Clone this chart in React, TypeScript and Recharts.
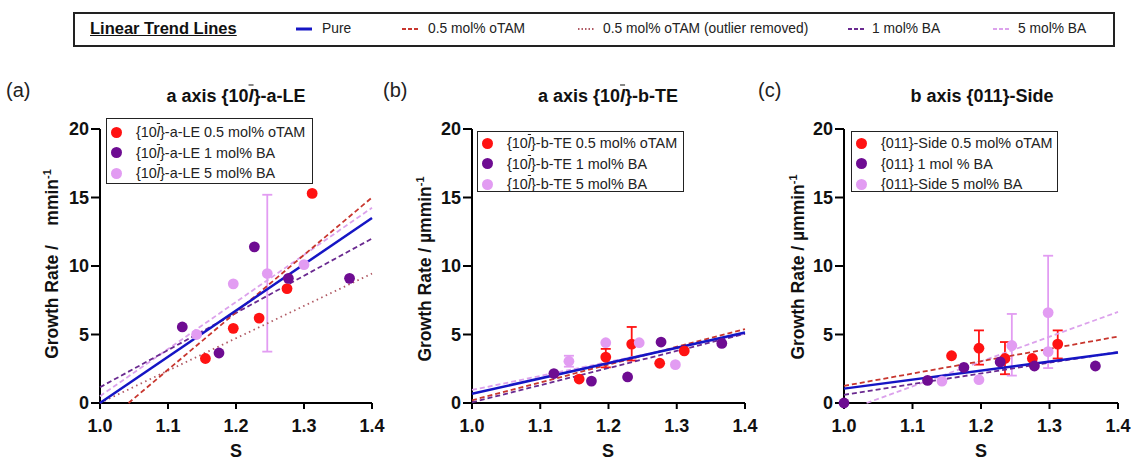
import React from 'react';
import { ScatterChart, Scatter, XAxis, YAxis, ErrorBar } from 'recharts';

type Pt = { s: number; rate: number; err?: [number, number] };

const sTicks = [1.0, 1.1, 1.2, 1.3, 1.4];
const rateTicks = [0, 5, 10, 15, 20];

// (a) a axis {10l}-a-LE
const leOtam: Pt[] = [
  { s: 1.155, rate: 3.25 }, { s: 1.196, rate: 5.45 }, { s: 1.234, rate: 6.2 },
  { s: 1.275, rate: 8.35 }, { s: 1.312, rate: 15.3 },
];
const leBa1: Pt[] = [
  { s: 1.121, rate: 5.55 }, { s: 1.175, rate: 3.65 }, { s: 1.227, rate: 11.4 },
  { s: 1.277, rate: 9.1 }, { s: 1.367, rate: 9.1 },
];
const leBa5: Pt[] = [
  { s: 1.142, rate: 5.0 }, { s: 1.196, rate: 8.7 },
  { s: 1.246, rate: 9.45, err: [5.7, 5.75] }, { s: 1.3, rate: 10.1 },
];
const leFitPure: Pt[] = [{ s: 1.0, rate: 0 }, { s: 1.4, rate: 13.5 }];
const leFitOtam: Pt[] = [{ s: 1.042, rate: 0 }, { s: 1.4, rate: 15.0 }];
const leFitOutlier: Pt[] = [{ s: 1.0, rate: 0.0 }, { s: 1.4, rate: 9.45 }];
const leFitBa1: Pt[] = [{ s: 1.0, rate: 1.15 }, { s: 1.4, rate: 12.0 }];
const leFitBa5: Pt[] = [{ s: 1.0, rate: 0.5 }, { s: 1.4, rate: 14.25 }];

// (b) a axis {10l}-b-TE
const teOtam: Pt[] = [
  { s: 1.157, rate: 1.75 }, { s: 1.196, rate: 3.35, err: [0.75, 0.6] },
  { s: 1.234, rate: 4.3, err: [1.2, 1.25] }, { s: 1.275, rate: 2.9 }, { s: 1.311, rate: 3.8 },
];
const teBa1: Pt[] = [
  { s: 1.12, rate: 2.15 }, { s: 1.175, rate: 1.6 }, { s: 1.228, rate: 1.9 },
  { s: 1.277, rate: 4.45 }, { s: 1.366, rate: 4.35 },
];
const teBa5: Pt[] = [
  { s: 1.142, rate: 3.05, err: [0.4, 0.4] }, { s: 1.196, rate: 4.4 },
  { s: 1.245, rate: 4.4 }, { s: 1.298, rate: 2.8 },
];
const teFitPure: Pt[] = [{ s: 1.0, rate: 0.68 }, { s: 1.4, rate: 5.15 }];
const teFitOtam: Pt[] = [{ s: 1.0, rate: 0.2 }, { s: 1.4, rate: 5.4 }];
const teFitBa1: Pt[] = [{ s: 1.0, rate: 0.05 }, { s: 1.4, rate: 5.05 }];
const teFitBa5: Pt[] = [{ s: 1.0, rate: 0.95 }, { s: 1.4, rate: 5.05 }];

// (c) b axis {011}-Side
const sideOtam: Pt[] = [
  { s: 1.157, rate: 3.45 }, { s: 1.197, rate: 4.0, err: [1.2, 1.3] },
  { s: 1.235, rate: 3.25, err: [1.15, 1.2] }, { s: 1.275, rate: 3.25 },
  { s: 1.312, rate: 4.3, err: [1.05, 1.0] },
];
const sideBa1: Pt[] = [
  { s: 1.0, rate: 0 }, { s: 1.122, rate: 1.65 }, { s: 1.175, rate: 2.6 },
  { s: 1.228, rate: 3.0 }, { s: 1.278, rate: 2.7 }, { s: 1.367, rate: 2.7 },
];
const sideBa5: Pt[] = [
  { s: 1.143, rate: 1.6 }, { s: 1.197, rate: 1.7 }, { s: 1.245, rate: 4.2, err: [2.2, 2.3] },
  { s: 1.298, rate: 6.6, err: [4.05, 4.15] }, { s: 1.298, rate: 3.75 },
];
const sideFitPure: Pt[] = [{ s: 1.0, rate: 1.05 }, { s: 1.4, rate: 3.68 }];
const sideFitOtam: Pt[] = [{ s: 1.0, rate: 1.25 }, { s: 1.4, rate: 4.85 }];
const sideFitBa1: Pt[] = [{ s: 1.0, rate: 0.6 }, { s: 1.4, rate: 3.72 }];
const sideFitBa5: Pt[] = [{ s: 1.033, rate: 0 }, { s: 1.4, rate: 6.65 }];

const RED = '#ff1212';
const PURPLE = '#6e0c92';
const LILAC = '#e29cf2';
const FONT = '"Liberation Sans", Arial, Helvetica, sans-serif';

const lineStyles: Record<string, any> = {
  pure: { stroke: '#1515c4', strokeWidth: 2.5 },
  otam: { stroke: '#c8362e', strokeWidth: 1.8, strokeDasharray: '5 3' },
  outlier: { stroke: '#b05a64', strokeWidth: 1.8, strokeDasharray: '1.5 3.5' },
  ba1: { stroke: '#6a2a90', strokeWidth: 1.8, strokeDasharray: '5 3' },
  ba5: { stroke: '#dca2ec', strokeWidth: 1.8, strokeDasharray: '5 3' },
};

const axisStroke = { stroke: '#000', strokeWidth: 2 };
const tickStyle = { fill: '#111', fontSize: 18, fontWeight: 700, fontFamily: FONT };

const blank = () => <g />;
const dot = (color: string) => (p: any) => <circle cx={p.cx} cy={p.cy} r={5.4} fill={color} />;

const Lbar = () => <span style={{ fontStyle: 'italic', textDecoration: 'overline' }}>l</span>;

type PanelProps = {
  left: number;
  width: number;
  padLeft: number;
  padRight: number;
  fits: [string, Pt[]][];
  otam: Pt[];
  ba1: Pt[];
  ba5: Pt[];
};

const Panel = ({ left, width, padLeft, padRight, fits, otam, ba1, ba5 }: PanelProps) => {
  const groups: [Pt[], string][] = [[otam, RED], [ba1, PURPLE], [ba5, LILAC]];
  return (
    <div style={{ position: 'absolute', left, top: 0 }}>
      <ScatterChart width={width} height={460} margin={{ top: 129, right: padRight, bottom: 17, left: padLeft }}>
        <XAxis
          type="number" dataKey="s" domain={[1, 1.4]} ticks={sTicks}
          tickFormatter={(v: number) => v.toFixed(1)} height={40} tickSize={6} tickMargin={10}
          axisLine={axisStroke} tickLine={axisStroke} tick={tickStyle}
        />
        <YAxis
          type="number" dataKey="rate" domain={[0, 20]} ticks={rateTicks}
          width={60} tickSize={9} tickMargin={2}
          axisLine={axisStroke} tickLine={axisStroke} tick={tickStyle}
        />
        {fits.map(([key, data]) => (
          <Scatter key={key} data={data} line={lineStyles[key]} shape={blank} isAnimationActive={false} />
        ))}
        {groups.map(([pts, color], i) => (
          <Scatter key={'err' + i} data={pts.filter((p) => p.err)} shape={blank} isAnimationActive={false}>
            <ErrorBar dataKey="err" direction="y" width={5} stroke={color} strokeWidth={1.8} />
          </Scatter>
        ))}
        {groups.map(([pts, color], i) => (
          <Scatter key={'pts' + i} data={pts} shape={dot(color)} isAnimationActive={false} />
        ))}
      </ScatterChart>
    </div>
  );
};

const centered = (x: number, y: number, style: React.CSSProperties = {}): React.CSSProperties => ({
  position: 'absolute', left: x, top: y, transform: 'translate(-50%, -50%)', whiteSpace: 'nowrap', ...style,
});

const YLabel = ({ x, y, unit }: { x: number; y: number; unit: string }) => (
  <div style={centered(x, y, { transform: 'translate(-50%, -50%) rotate(-90deg)', fontSize: 17.5, fontWeight: 700, color: '#111' })}>
    Growth Rate / {unit}mmin<sup style={{ fontSize: 11 }}>-1</sup>
  </div>
);

const PanelLegend = ({ left, top, height, first, rows }: { left: number; top: number; height: number; first: number; rows: React.ReactNode[] }) => (
  <div style={{ position: 'absolute', left, top, width: 207, height, border: '1.5px solid #222', boxSizing: 'border-box', background: '#fff' }}>
    {rows.map((r, i) => (
      <div key={i} style={{ position: 'absolute', left: 0, top: first + i * 20.5 - 9, height: 18, display: 'flex', alignItems: 'center', fontSize: 14.4, color: '#222', whiteSpace: 'nowrap' }}>
        <span style={{ width: 11, height: 11, borderRadius: 6, background: [RED, PURPLE, LILAC][i], marginLeft: 4, marginRight: 14 }} />
        {r}
      </div>
    ))}
  </div>
);

const KeyLine = ({ x, k }: { x: number; k: string }) => (
  <svg style={{ position: 'absolute', left: x, top: 26 }} width={16} height={6}>
    <line x1={0} y1={3} x2={16} y2={3} {...lineStyles[k]} strokeWidth={k === 'pure' ? 3 : 2} strokeDasharray={k === 'pure' ? undefined : k === 'outlier' ? '1.5 2' : '4 2'} />
  </svg>
);

const App = () => (
  <div style={{ position: 'absolute', left: 0, top: 0, width: 1131, height: 460, overflow: 'hidden', background: '#fff', fontFamily: FONT }}>
    {/* shared legend of trend lines */}
    <div style={{ position: 'absolute', left: 73, top: 12, width: 1042, height: 35, border: '2px solid #222', boxSizing: 'border-box' }} />
    <div style={{ position: 'absolute', left: 90, top: 19, fontSize: 16.5, fontWeight: 700, textDecoration: 'underline', color: '#111' }}>Linear Trend Lines</div>
    <KeyLine x={296} k="pure" />
    <div style={{ position: 'absolute', left: 322, top: 21, fontSize: 13.8, color: '#222' }}>Pure</div>
    <KeyLine x={402} k="otam" />
    <div style={{ position: 'absolute', left: 428, top: 21, fontSize: 13.8, color: '#222' }}>0.5 mol% oTAM</div>
    <KeyLine x={578} k="outlier" />
    <div style={{ position: 'absolute', left: 603, top: 21, fontSize: 13.8, color: '#222' }}>0.5 mol% oTAM (outlier removed)</div>
    <KeyLine x={848} k="ba1" />
    <div style={{ position: 'absolute', left: 872, top: 21, fontSize: 13.8, color: '#222' }}>1 mol% BA</div>
    <KeyLine x={993} k="ba5" />
    <div style={{ position: 'absolute', left: 1018, top: 21, fontSize: 13.8, color: '#222' }}>5 mol% BA</div>

    <Panel
      left={0} width={390} padLeft={40} padRight={18}
      fits={[['ba5', leFitBa5], ['ba1', leFitBa1], ['outlier', leFitOutlier], ['otam', leFitOtam], ['pure', leFitPure]]}
      otam={leOtam} ba1={leBa1} ba5={leBa5}
    />
    <Panel
      left={380} width={385} padLeft={32} padRight={20}
      fits={[['ba5', teFitBa5], ['ba1', teFitBa1], ['otam', teFitOtam], ['pure', teFitPure]]}
      otam={teOtam} ba1={teBa1} ba5={teBa5}
    />
    <Panel
      left={755} width={376} padLeft={29} padRight={13}
      fits={[['ba5', sideFitBa5], ['ba1', sideFitBa1], ['otam', sideFitOtam], ['pure', sideFitPure]]}
      otam={sideOtam} ba1={sideBa1} ba5={sideBa5}
    />

    <div style={{ position: 'absolute', left: 6, top: 79, fontSize: 20, color: '#222' }}>(a)</div>
    <div style={{ position: 'absolute', left: 383, top: 79, fontSize: 20, color: '#222' }}>(b)</div>
    <div style={{ position: 'absolute', left: 758, top: 79, fontSize: 20, color: '#222' }}>(c)</div>

    <div style={centered(236, 96, { fontSize: 18, fontWeight: 700, color: '#111' })}>a axis {'{'}10<Lbar />{'}'}-a-LE</div>
    <div style={centered(608, 96, { fontSize: 18, fontWeight: 700, color: '#111' })}>a axis {'{'}10<Lbar />{'}'}-b-TE</div>
    <div style={centered(982, 96, { fontSize: 18, fontWeight: 700, color: '#111' })}>b axis {'{'}011{'}'}-Side</div>

    <YLabel x={52} y={264} unit={'\u00a0\u00a0\u00a0'} />
    <YLabel x={425} y={269} unit={'\u00b5'} />
    <YLabel x={798} y={267} unit={'\u00b5'} />

    <div style={centered(236, 451, { fontSize: 18, fontWeight: 700, color: '#111' })}>S</div>
    <div style={centered(608, 451, { fontSize: 18, fontWeight: 700, color: '#111' })}>S</div>
    <div style={centered(981, 451, { fontSize: 18, fontWeight: 700, color: '#111' })}>S</div>

    <PanelLegend left={106} top={118} height={66} first={13} rows={[
      <span>{'{'}10<Lbar />{'}'}-a-LE 0.5 mol% oTAM</span>,
      <span>{'{'}10<Lbar />{'}'}-a-LE 1 mol% BA</span>,
      <span>{'{'}10<Lbar />{'}'}-a-LE 5 mol% BA</span>,
    ]} />
    <PanelLegend left={477} top={131} height={61} first={11} rows={[
      <span>{'{'}10<Lbar />{'}'}-b-TE 0.5 mol% oTAM</span>,
      <span>{'{'}10<Lbar />{'}'}-b-TE 1 mol% BA</span>,
      <span>{'{'}10<Lbar />{'}'}-b-TE 5 mol% BA</span>,
    ]} />
    <PanelLegend left={851} top={131} height={61} first={11} rows={[
      <span>{'{'}011{'}'}-Side 0.5 mol% oTAM</span>,
      <span>{'{'}011{'}'} 1 mol % BA</span>,
      <span>{'{'}011{'}'}-Side 5 mol% BA</span>,
    ]} />
  </div>
);

export default App;
